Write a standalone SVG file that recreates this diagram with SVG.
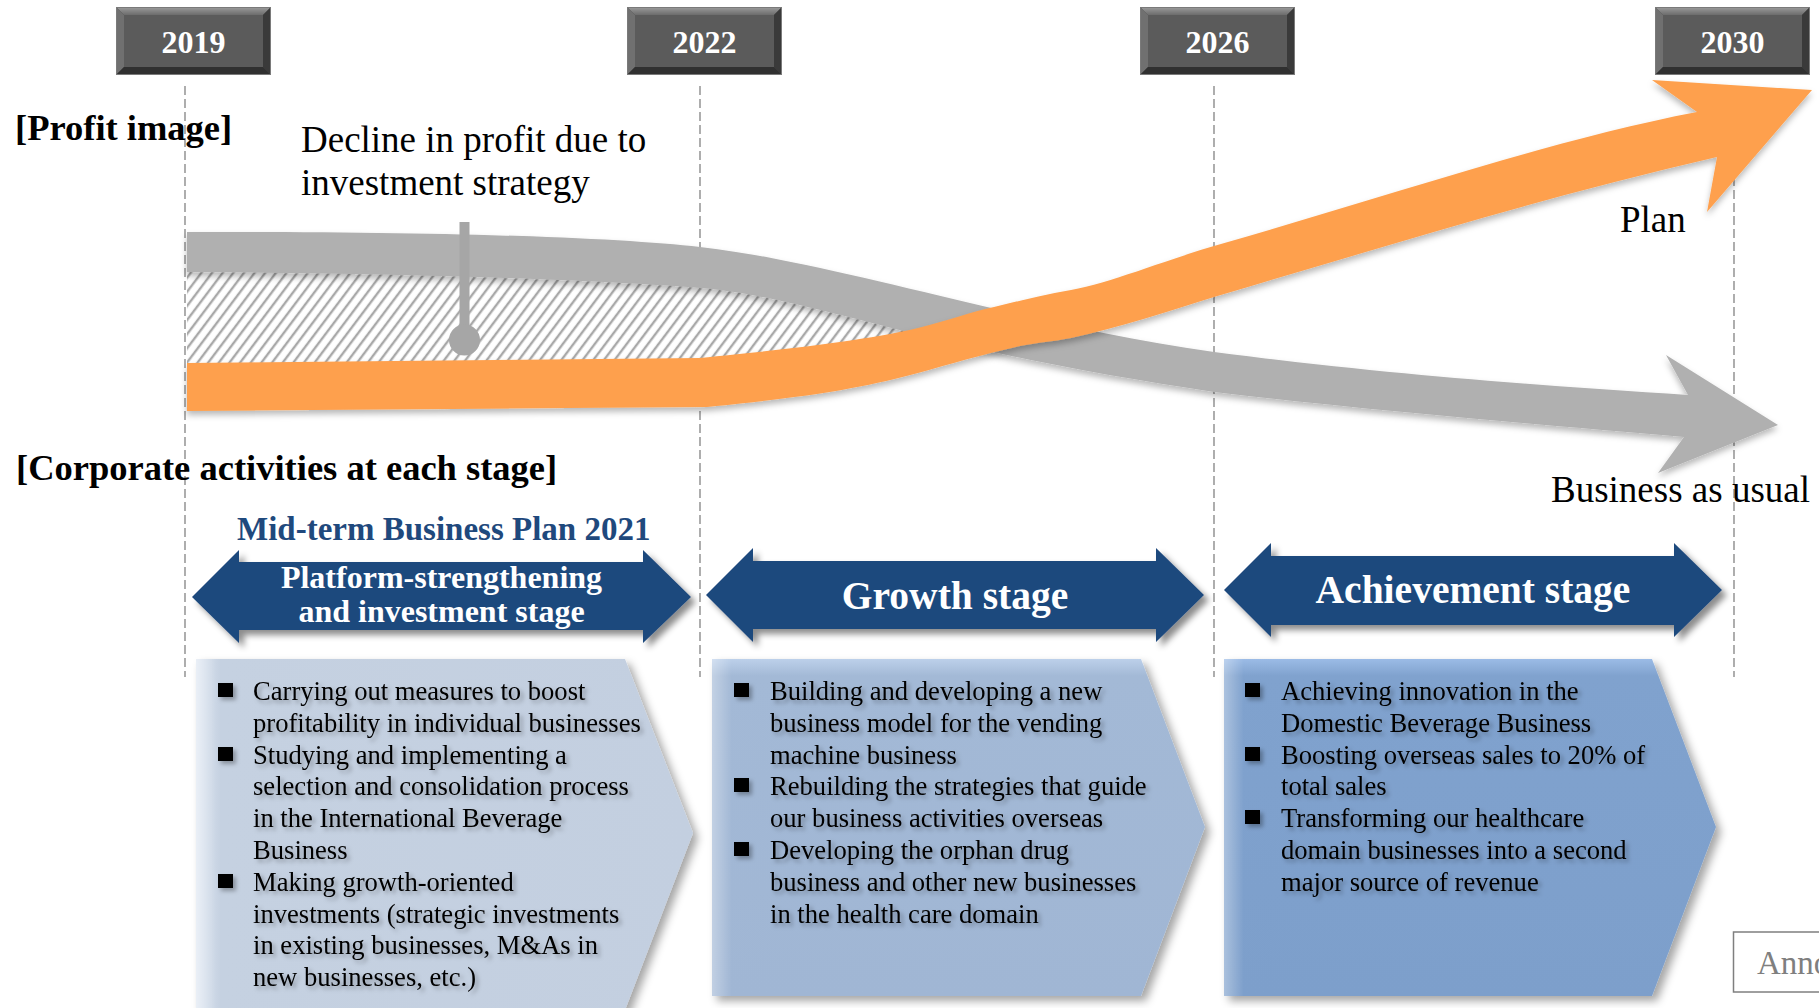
<svg xmlns="http://www.w3.org/2000/svg" width="1819" height="1008" viewBox="0 0 1819 1008">
<defs>
<style>
text { font-family: "Liberation Serif", "Times New Roman", serif; }
.yr { font-weight: bold; font-size: 32px; fill: #ffffff; text-anchor: middle; }
.hd { font-weight: bold; font-size: 36.5px; fill: #000000; }
.lbl { font-size: 37px; fill: #000000; }
.mtp { font-weight: bold; font-size: 33px; fill: #1F497D; }
.stg { font-weight: bold; fill: #ffffff; text-anchor: middle; }
.body { font-size: 26.6px; fill: #000000; }
.dash { stroke: #9a9a9a; stroke-width: 1.6; stroke-dasharray: 9 4; fill: none; }
.sarrow { fill: #1F497D; }
.bul { fill: #000000; }
</style>
<filter id="bandSh" x="-5%" y="-20%" width="110%" height="150%">
<feDropShadow dx="0" dy="4" stdDeviation="3" flood-color="#000" flood-opacity="0.28"/>
</filter>
<filter id="arrSh" x="-5%" y="-20%" width="115%" height="160%">
<feDropShadow dx="5" dy="5" stdDeviation="3" flood-color="#000" flood-opacity="0.45"/>
</filter>
<filter id="boxSh" x="-5%" y="-5%" width="115%" height="115%">
<feDropShadow dx="5" dy="5" stdDeviation="4" flood-color="#000" flood-opacity="0.35"/>
</filter>
<filter id="txtSh" x="-5%" y="-5%" width="115%" height="115%">
<feDropShadow dx="3" dy="3" stdDeviation="2" flood-color="#000" flood-opacity="0.3"/>
</filter>
<pattern id="hatch" width="8.5" height="10" patternUnits="userSpaceOnUse" patternTransform="rotate(37)">
<rect width="8.5" height="10" fill="#ffffff"/>
<line x1="2" y1="0" x2="2" y2="10" stroke="#a8a8a8" stroke-width="2.4"/>
</pattern>
<linearGradient id="bevTop" x1="0" y1="0" x2="0" y2="1">
<stop offset="0" stop-color="#9c9c9c"/><stop offset="1" stop-color="#6c6c6c"/>
</linearGradient>
<linearGradient id="g1" x1="0" y1="0" x2="1" y2="0">
<stop offset="0" stop-color="#dfe7f2"/><stop offset="0.05" stop-color="#c5d1e1"/><stop offset="1" stop-color="#c3cfe0"/>
</linearGradient>
<linearGradient id="g2" x1="0" y1="0" x2="0" y2="1">
<stop offset="0" stop-color="#bcd0ea"/><stop offset="0.05" stop-color="#a3b9d6"/><stop offset="1" stop-color="#a0b6d4"/>
</linearGradient>
<linearGradient id="g3" x1="0" y1="0" x2="0" y2="1">
<stop offset="0" stop-color="#9bbbe6"/><stop offset="0.05" stop-color="#80a2ce"/><stop offset="1" stop-color="#7d9fcb"/>
</linearGradient>
<linearGradient id="gl" x1="0" y1="0" x2="1" y2="0">
<stop offset="0" stop-color="#ffffff" stop-opacity="0.35"/><stop offset="0.04" stop-color="#ffffff" stop-opacity="0"/>
</linearGradient>
<g id="bev">
<rect width="155" height="68" fill="#4a4a4a"/>
<polygon points="0,0 155,0 147,8 8,8" fill="url(#bevTop)"/>
<polygon points="0,0 8,8 8,60 0,68" fill="#707070"/>
<polygon points="155,0 155,68 147,60 147,8" fill="#3a3a3a"/>
<polygon points="0,68 8,60 147,60 155,68" fill="#303030"/>
<rect x="8" y="8" width="139" height="52" fill="#5b5b5b"/>
<rect x="0.5" y="0.5" width="154" height="67" fill="none" stroke="#7a7a7a" stroke-width="1"/>
</g>
</defs>

<rect width="1819" height="1008" fill="#ffffff"/>

<g id="gridlines">
<line class="dash" x1="185" y1="86" x2="185" y2="677"/>
<line class="dash" x1="700" y1="86" x2="700" y2="677"/>
<line class="dash" x1="1214" y1="86" x2="1214" y2="677"/>
<line class="dash" x1="1734" y1="86" x2="1734" y2="677"/>
</g>

<g id="year-2019"><use href="#bev" x="116" y="7"/><text class="yr" x="193.5" y="53">2019</text></g>
<g id="year-2022"><use href="#bev" x="627" y="7"/><text class="yr" x="704.5" y="53">2022</text></g>
<g id="year-2026"><use href="#bev" x="1140" y="7"/><text class="yr" x="1217.5" y="53">2026</text></g>
<g id="year-2030"><use href="#bev" x="1655" y="7"/><text class="yr" x="1732.5" y="53">2030</text></g>

<g id="titles">
<text class="hd" x="15" y="140">[Profit image]</text>
<text class="hd" x="16" y="480">[Corporate activities at each stage]</text>
</g>

<g id="decline-label">
<text class="lbl" x="301" y="152">Decline in profit due to</text>
<text class="lbl" x="301" y="195">investment strategy</text>
</g>

<g id="profit-gap">
<path d="M187,255 C400,256 600,260 700,270 C780,278 830,292 850,300 L930,333 L803,370 L700,383 L187,387 Z" fill="url(#hatch)"/>
</g>

<g id="connectors">
<path id="business-as-usual-arrow" filter="url(#bandSh)" fill="#b0b0b0" d="M187,232 C450,231 620,238 700,247 C780,256 880,282 987,307 C1060,324 1130,340 1214,352 C1400,376 1550,386 1688,395 L1666,355 L1778,425 L1658,473 L1684,437 C1550,425 1380,412 1214,392 C1100,375 1000,356 880,325 C800,305 750,292 700,288 C600,280 400,273 187,272 Z"/>
<g id="decline-pin" fill="#a6a6a6">
<rect x="459.5" y="222" width="10" height="118"/>
<circle cx="464.5" cy="340" r="15.5"/>
</g>
<path id="plan-arrow" filter="url(#bandSh)" fill="#fea04d" d="M187,363 L700,358 C760,352 860,342 918,328 C950,320 970,312 994,307 C1020,301 1045,294 1071,290 C1110,283 1160,262 1214,246 C1380,199 1550,140 1697,112 L1652,80 L1812,90 L1707,212 L1717,157 C1550,195 1380,248 1214,297 C1170,311 1120,327 1071,338 C1050,342 1040,342 1020,346 C980,355 950,364 918,373 C870,386 820,396 707,407 L187,411 Z"/>
</g>

<g id="curve-labels">
<text class="lbl" x="1620" y="232">Plan</text>
<text class="lbl" x="1551" y="502">Business as usual</text>
</g>

<g id="midterm-plan">
<text class="mtp" x="237" y="540">Mid-term Business Plan 2021</text>
</g>

<g id="stage-platform">
<path class="sarrow" filter="url(#arrSh)" d="M192,597 L239,550 L239,562 L643,562 L643,550 L691,597 L643,643 L643,630 L239,630 L239,643 Z"/>
<text class="stg" x="441.5" y="588" font-size="32">Platform-strengthening</text>
<text class="stg" x="441.5" y="622" font-size="32">and investment stage</text>
</g>
<g id="stage-growth">
<path class="sarrow" filter="url(#arrSh)" d="M706,595 L753,548 L753,561 L1156,561 L1156,548 L1204,595 L1156,642 L1156,629 L753,629 L753,642 Z"/>
<text class="stg" x="955" y="609" font-size="39.5">Growth stage</text>
</g>
<g id="stage-achievement">
<path class="sarrow" filter="url(#arrSh)" d="M1224,590 L1271,543 L1271,556 L1674,556 L1674,543 L1722,590 L1674,637 L1674,625 L1271,625 L1271,637 Z"/>
<text class="stg" x="1473" y="603" font-size="39.5">Achievement stage</text>
</g>

<g id="box-platform">
<path filter="url(#boxSh)" fill="url(#g1)" d="M196,659 L625,659 L693,833 L625,1010 L196,1010 Z"/>
<path fill="url(#gl)" d="M196,659 L625,659 L693,833 L625,1010 L196,1010 Z"/>
<g filter="url(#txtSh)">
<rect class="bul" x="218" y="683" width="15" height="14"/>
<rect class="bul" x="218" y="747" width="15" height="14"/>
<rect class="bul" x="218" y="874" width="15" height="14"/>
<text class="body">
<tspan x="253" y="700">Carrying out measures to boost</tspan>
<tspan x="253" y="731.8">profitability in individual businesses</tspan>
<tspan x="253" y="763.6">Studying and implementing a</tspan>
<tspan x="253" y="795.4">selection and consolidation process</tspan>
<tspan x="253" y="827.2">in the International Beverage</tspan>
<tspan x="253" y="859">Business</tspan>
<tspan x="253" y="890.8">Making growth-oriented</tspan>
<tspan x="253" y="922.6">investments (strategic investments</tspan>
<tspan x="253" y="954.4">in existing businesses, M&amp;As in</tspan>
<tspan x="253" y="986.2">new businesses, etc.)</tspan>
</text>
</g>
</g>

<g id="box-growth">
<path filter="url(#boxSh)" fill="url(#g2)" d="M712,659 L1141,659 L1205,827 L1141,996 L712,996 Z"/>
<path fill="url(#gl)" d="M712,659 L1141,659 L1205,827 L1141,996 L712,996 Z"/>
<g filter="url(#txtSh)">
<rect class="bul" x="734" y="683" width="15" height="14"/>
<rect class="bul" x="734" y="778" width="15" height="14"/>
<rect class="bul" x="734" y="842" width="15" height="14"/>
<text class="body">
<tspan x="770" y="700">Building and developing a new</tspan>
<tspan x="770" y="731.8">business model for the vending</tspan>
<tspan x="770" y="763.6">machine business</tspan>
<tspan x="770" y="795.4">Rebuilding the strategies that guide</tspan>
<tspan x="770" y="827.2">our business activities overseas</tspan>
<tspan x="770" y="859">Developing the orphan drug</tspan>
<tspan x="770" y="890.8">business and other new businesses</tspan>
<tspan x="770" y="922.6">in the health care domain</tspan>
</text>
</g>
</g>

<g id="box-achievement">
<path filter="url(#boxSh)" fill="url(#g3)" d="M1224,659 L1652,659 L1716,827 L1652,996 L1224,996 Z"/>
<path fill="url(#gl)" d="M1224,659 L1652,659 L1716,827 L1652,996 L1224,996 Z"/>
<g filter="url(#txtSh)">
<rect class="bul" x="1245" y="683" width="15" height="14"/>
<rect class="bul" x="1245" y="747" width="15" height="14"/>
<rect class="bul" x="1245" y="810" width="15" height="14"/>
<text class="body">
<tspan x="1281" y="700">Achieving innovation in the</tspan>
<tspan x="1281" y="731.8">Domestic Beverage Business</tspan>
<tspan x="1281" y="763.6">Boosting overseas sales to 20% of</tspan>
<tspan x="1281" y="795.4">total sales</tspan>
<tspan x="1281" y="827.2">Transforming our healthcare</tspan>
<tspan x="1281" y="859">domain businesses into a second</tspan>
<tspan x="1281" y="890.8">major source of revenue</tspan>
</text>
</g>
</g>

<g id="annotation-box">
<rect x="1733.5" y="932" width="100" height="60" fill="#ffffff" stroke="#7f7f7f" stroke-width="1.5"/>
<text x="1757" y="974" font-size="33" fill="#7f7f7f">Anno</text>
</g>
</svg>
